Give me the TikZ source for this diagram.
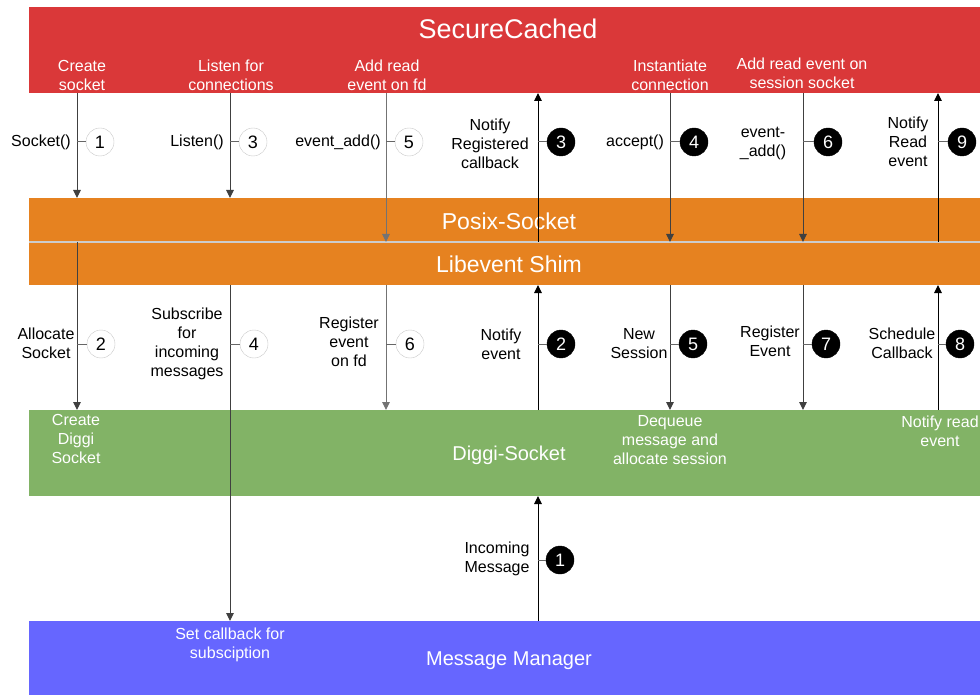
\documentclass[tikz,border=0pt]{standalone}
\usepackage{fontspec}
\setmainfont{Liberation Sans}
\usetikzlibrary{arrows.meta}
\definecolor{scred}{RGB}{218,56,57}
\definecolor{scorange}{RGB}{230,130,32}
\definecolor{scgreen}{RGB}{130,179,102}
\definecolor{scblue}{RGB}{102,102,255}
\definecolor{sepgray}{RGB}{204,204,204}
\definecolor{circgray}{RGB}{200,200,200}
\begin{document}
\begin{tikzpicture}[x=1pt,y=-1pt,
  band/.style={draw=none, inner sep=0pt, outer sep=0pt, minimum width=951pt, anchor=north west},
  lab/.style={font=\fontsize{16}{19}\selectfont, align=center, inner sep=0pt},
  wlab/.style={lab, text=white},
  bigw/.style={font=\fontsize{23}{26}\selectfont, text=white, inner sep=0pt},
  midw/.style={font=\fontsize{20}{24}\selectfont, text=white, inner sep=0pt},
  wc/.style={circle, draw=circgray, fill=white, minimum size=28pt, inner sep=0pt, font=\fontsize{18}{20}\selectfont},
  bc/.style={circle, draw=black, fill=black, text=white, minimum size=28pt, inner sep=0pt, font=\fontsize{18}{20}\selectfont},
  arr/.style={line width=1pt, -{Triangle[length=8pt,width=7.5pt]}},
  darr/.style={arr, draw=black!75},
  garr/.style={arr, draw=black!55},
  uarr/.style={arr, draw=black},
  tick/.style={line width=1pt, draw=black!60},
  sepline/.style={line width=2pt, draw=sepgray}
]
\useasboundingbox (0,0) rectangle (980,695);

% bands
\node[band, fill=scred, minimum height=86pt] (red) at (29,7) {};
\node[band, fill=scorange, minimum height=44pt] (posix) at (29,198) {};
\node[band, fill=scorange, minimum height=43pt] (libev) at (29,242) {};
\node[band, fill=scgreen, minimum height=86pt] (green) at (29,410) {};
\node[band, fill=scblue, minimum height=74pt] (blue) at (29,621) {};
\draw[sepline] (posix.south west) -- (posix.south east);

% band titles
\node[font=\fontsize{27}{30}\selectfont, text=white, inner sep=0pt] (tsc) at (508,29) {SecureCached};
\node[bigw] (tposix) at (509,221) {Posix-Socket};
\node[bigw] (tlibev) at (509,264) {Libevent Shim};
\node[midw] (tdiggi) at (509,455) {Diggi-Socket};
\node[midw] (tmm) at (509,661) {Message Manager};

% labels inside bands
\node[wlab] (l1) at (82,75) {Create\\socket};
\node[wlab] (l2) at (231,75) {Listen for\\connections};
\node[wlab] (l3) at (387,75) {Add read\\event on fd};
\node[wlab] (l4) at (670,75) {Instantiate\\connection};
\node[wlab] (l5) at (802,73) {Add read event on\\session socket};
\node[wlab] (l6) at (76,439) {Create\\Diggi\\Socket};
\node[wlab] (l7) at (670,440) {Dequeue\\message and\\allocate session};
\node[wlab] (l8) at (940,431) {Notify read\\event};
\node[wlab] (l9) at (230,645) {Set callback for\\subsciption};

% arrow x positions
\coordinate (c1) at (77,0);
\coordinate (c2) at (230,0);
\coordinate (c3) at (386,0);
\coordinate (c4) at (538,0);
\coordinate (c5) at (670,0);
\coordinate (c6) at (803,0);
\coordinate (c7) at (938,0);

% arrows
\draw[darr] (c1 |- red.south) -- (c1 |- posix.north);
\draw[darr] (c1 |- posix.south) -- (c1 |- green.north);
\draw[darr] (c2 |- red.south) -- (c2 |- posix.north);
\draw[darr] (c2 |- libev.south) -- (c2 |- blue.north);
\draw[garr] (c3 |- red.south) -- (c3 |- posix.south);
\draw[garr] (c3 |- libev.south) -- (c3 |- green.north);
\draw[uarr] (c4 |- posix.south) -- (c4 |- red.south);
\draw[uarr] (c4 |- green.north) -- (c4 |- libev.south);
\draw[uarr] (c4 |- blue.north) -- (c4 |- green.south);
\draw[darr] (c5 |- red.south) -- (c5 |- posix.south);
\draw[darr] (c5 |- libev.south) -- (c5 |- green.north);
\draw[darr] (c6 |- red.south) -- (c6 |- posix.south);
\draw[darr] (c6 |- libev.south) -- (c6 |- green.north);
\draw[uarr] (c7 |- posix.south) -- (c7 |- red.south);
\draw[uarr] (c7 |- green.north) -- (c7 |- libev.south);

% step circles
\node[wc] (w1) at (100,142) {1};
\node[wc] (w2) at (101,344) {2};
\node[wc] (w3) at (253,142) {3};
\node[wc] (w4) at (254,344) {4};
\node[wc] (w5) at (409,142) {5};
\node[wc] (w6) at (410,344) {6};
\node[bc] (b1) at (560,560) {1};
\node[bc] (b2) at (561,344) {2};
\node[bc] (b3) at (561,142) {3};
\node[bc] (b4) at (694,142) {4};
\node[bc] (b5) at (693,344) {5};
\node[bc] (b6) at (828,142) {6};
\node[bc] (b7) at (826,344) {7};
\node[bc] (b8) at (960,344) {8};
\node[bc] (b9) at (962,142) {9};

% ticks
\draw[tick] (c1 |- w1) -- (w1.west);
\draw[tick] (c1 |- w2) -- (w2.west);
\draw[tick] (c2 |- w3) -- (w3.west);
\draw[tick] (c2 |- w4) -- (w4.west);
\draw[tick] (c3 |- w5) -- (w5.west);
\draw[tick] (c3 |- w6) -- (w6.west);
\draw[tick] (c4 |- b1) -- (b1.west);
\draw[tick] (c4 |- b2) -- (b2.west);
\draw[tick] (c4 |- b3) -- (b3.west);
\draw[tick] (c5 |- b4) -- (b4.west);
\draw[tick] (c5 |- b5) -- (b5.west);
\draw[tick] (c6 |- b6) -- (b6.west);
\draw[tick] (c6 |- b7) -- (b7.west);
\draw[tick] (c7 |- b8) -- (b8.west);
\draw[tick] (c7 |- b9) -- (b9.west);

% labels beside arrows
\node[lab] (t1) at (41,142) {Socket()};
\node[lab] (t2) at (46,343) {Allocate\\Socket};
\node[lab] (t3) at (197,142) {Listen()};
\node[lab] (t4) at (187,344) {Subscribe\\for\\incoming\\messages};
\node[lab] (t5) at (338,142) {event\_add()};
\node[lab] (t6) at (349,342) {Register\\event\\on fd};
\node[lab] (t7) at (490,144) {Notify\\Registered\\callback};
\node[lab] (t8) at (501,344) {Notify\\event};
\node[lab] (t9) at (497,559) {Incoming\\Message};
\node[lab] (t10) at (635,142) {accept()};
\node[lab] (t11) at (639,344) {New\\Session};
\node[lab] (t12) at (763,143) {event-\\\_add()};
\node[lab] (t13) at (770,341) {Register\\Event};
\node[lab] (t14) at (908,142) {Notify\\Read\\event};
\node[lab] (t15) at (902,343) {Schedule\\Callback};
\end{tikzpicture}
\end{document}
